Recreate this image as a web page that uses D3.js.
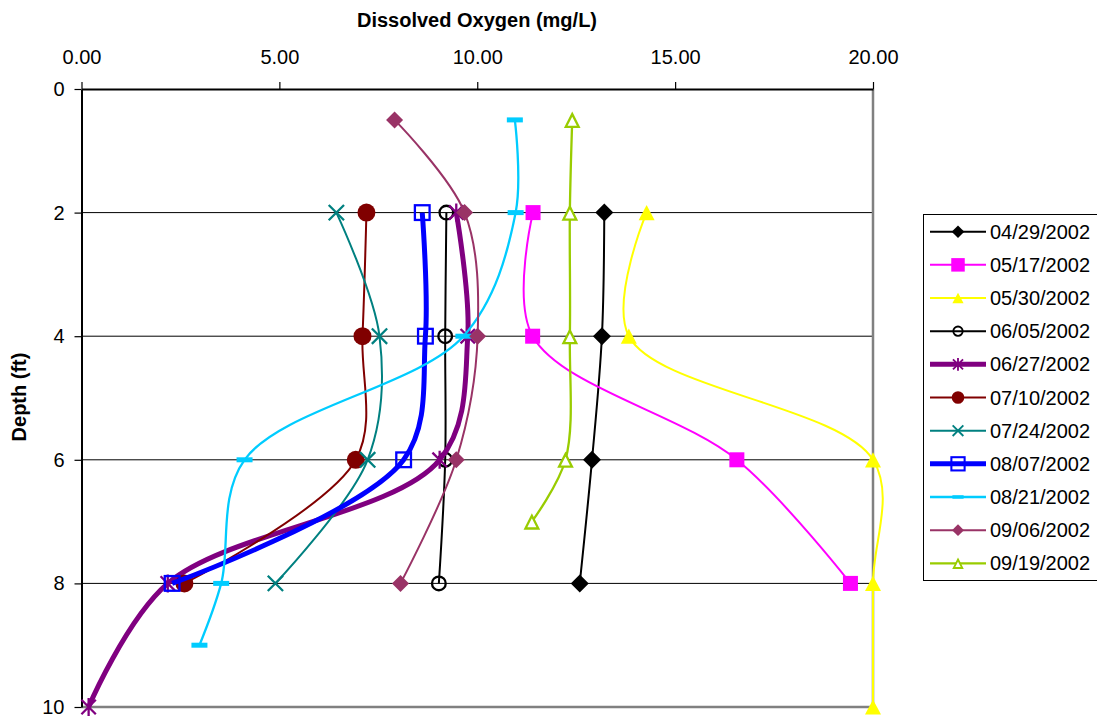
<!DOCTYPE html>
<html>
<head>
<meta charset="utf-8">
<script src="https://cdn.jsdelivr.net/npm/d3@7"></script>
<style>
  html, body { margin: 0; padding: 0; background: #fff; }
  svg { display: block; font-family: "Liberation Sans", Arial, sans-serif; }
</style>
</head>
<body>
<svg id="chart" width="1097" height="717"></svg>
<script>
// Dissolved oxygen profiles: DO (mg/L) against depth (ft), one series per sampling date.
const seriesDates = ["04/29/2002", "05/17/2002", "05/30/2002", "06/05/2002", "06/27/2002",
  "07/10/2002", "07/24/2002", "08/07/2002", "08/21/2002", "09/06/2002", "09/19/2002"];

const depth_0429 = [2, 4, 6, 8];
const do_0429 = [13.21, 13.15, 12.90, 12.59];
const depth_0517 = [2, 4, 6, 8];
const do_0517 = [11.41, 11.40, 16.56, 19.43];
const depth_0530 = [2, 4, 6, 8, 10];
const do_0530 = [14.28, 13.83, 20.0, 20.0, 20.0];
const depth_0605 = [2, 4, 6, 8];
const do_0605 = [9.22, 9.19, 9.19, 9.03];
const depth_0627 = [2, 4, 6, 8, 10];
const do_0627 = [9.47, 9.76, 9.05, 2.18, 0.18];
const depth_0710 = [2, 4, 6, 8];
const do_0710 = [7.20, 7.10, 6.93, 2.60];
const depth_0724 = [2, 4, 6, 8];
const do_0724 = [6.44, 7.53, 7.23, 4.90];
const depth_0807 = [2, 4, 6, 8];
const do_0807 = [8.61, 8.69, 8.14, 2.29];
const depth_0821 = [0.5, 2, 4, 6, 8, 9];
const do_0821 = [10.95, 10.97, 9.65, 4.12, 3.53, 2.98];
const depth_0906 = [0.5, 2, 4, 6, 8];
const do_0906 = [7.91, 9.68, 10.01, 9.47, 8.06];
const depth_0919 = [0.5, 2, 4, 6, 7];
const do_0919 = [12.40, 12.34, 12.34, 12.23, 11.38];

const doTicks = [0, 5, 10, 15, 20];
const depthTicks = [0, 2, 4, 6, 8, 10];

// Per-series appearance
const seriesStyle = [
  { color: "#000000", width: 2,   marker: "diamond",  size: 18, fill: "#000000" },
  { color: "#FF00FF", width: 2,   marker: "square",   size: 15, fill: "#FF00FF" },
  { color: "#FFFF00", width: 2,   marker: "triangle", size: 16, fill: "#FFFF00" },
  { color: "#000000", width: 2,   marker: "circle",   size: 16, fill: "none" },
  { color: "#800080", width: 5,   marker: "star",     size: 18, fill: "none" },
  { color: "#800000", width: 2,   marker: "circle",   size: 18, fill: "#800000" },
  { color: "#008080", width: 2,   marker: "x",        size: 18, fill: "none" },
  { color: "#0000FF", width: 5,   marker: "square",   size: 17, fill: "none" },
  { color: "#00CCFF", width: 2.3, marker: "dash",     size: 16, fill: "#00CCFF" },
  { color: "#993366", width: 2,   marker: "diamond",  size: 17, fill: "#993366" },
  { color: "#99CC00", width: 2.3, marker: "triangle", size: 17, fill: "#FFFFFF" }
];

const seriesData = [
  [depth_0429, do_0429], [depth_0517, do_0517], [depth_0530, do_0530], [depth_0605, do_0605],
  [depth_0627, do_0627], [depth_0710, do_0710], [depth_0724, do_0724], [depth_0807, do_0807],
  [depth_0821, do_0821], [depth_0906, do_0906], [depth_0919, do_0919]
].map(([dep, val]) => dep.map((d, i) => ({ depth: d, value: val[i] })));

const svg = d3.select("#chart");
const plot = { left: 81.5, right: 873, top: 89, bottom: 707 };

const x = d3.scaleLinear().domain([0, 20]).range([plot.left, plot.right]);
const y = d3.scaleLinear().domain([0, 10]).range([plot.top, plot.bottom]);

// Horizontal gridlines
svg.append("g").selectAll("line")
  .data(depthTicks.filter(d => d > 0 && d < 10))
  .join("line")
  .attr("x1", plot.left).attr("x2", plot.right)
  .attr("y1", d => y(d)).attr("y2", d => y(d))
  .attr("stroke", "#000").attr("stroke-width", 1);

// Plot-area border (right and bottom)
svg.append("path")
  .attr("d", `M${plot.right},${plot.top}V${plot.bottom}H${plot.left}`)
  .attr("fill", "none").attr("stroke", "#808080").attr("stroke-width", 2.5);

// Top axis (dissolved oxygen)
const xAxis = svg.append("g")
  .attr("transform", `translate(0,${plot.top})`)
  .call(d3.axisTop(x).tickValues(doTicks).tickFormat(d3.format(".2f"))
    .tickSizeInner(7).tickSizeOuter(0).tickPadding(18));
xAxis.select(".domain").attr("stroke", "#000").attr("stroke-width", 2);
xAxis.selectAll(".tick line").attr("stroke", "#000").attr("stroke-width", 1.2);
xAxis.selectAll(".tick text").attr("font-size", 20).attr("fill", "#000")
  .attr("font-family", "Liberation Sans, Arial, sans-serif");

// Left axis (depth)
const yAxis = svg.append("g")
  .attr("transform", `translate(${plot.left},0)`)
  .call(d3.axisLeft(y).tickValues(depthTicks).tickFormat(d3.format("d"))
    .tickSizeInner(7).tickSizeOuter(0).tickPadding(10));
yAxis.select(".domain").attr("stroke", "#000").attr("stroke-width", 2);
yAxis.selectAll(".tick line").attr("stroke", "#000").attr("stroke-width", 1.2);
yAxis.selectAll(".tick text").attr("font-size", 20).attr("fill", "#000")
  .attr("font-family", "Liberation Sans, Arial, sans-serif");

// Axis titles
svg.append("text")
  .attr("x", 477).attr("y", 27)
  .attr("text-anchor", "middle")
  .attr("font-size", 20).attr("font-weight", "bold")
  .text("Dissolved Oxygen (mg/L)");

svg.append("text")
  .attr("transform", "translate(26,397) rotate(-90)")
  .attr("text-anchor", "middle")
  .attr("font-size", 20).attr("font-weight", "bold")
  .text("Depth (ft)");

// Marker drawing
function drawMarker(g, style, scale) {
  const s = style.size * scale;
  const h = s / 2;
  const sw = 2.3 * Math.max(scale, 0.8);
  switch (style.marker) {
    case "diamond":
      g.append("path").attr("d", `M0,${-h}L${h},0L0,${h}L${-h},0Z`)
        .attr("fill", style.fill).attr("stroke", "none");
      break;
    case "square":
      if (style.fill === "none") {
        g.append("rect").attr("x", -h + sw / 2).attr("y", -h + sw / 2)
          .attr("width", s - sw).attr("height", s - sw)
          .attr("fill", "none").attr("stroke", style.color).attr("stroke-width", sw);
      } else {
        g.append("rect").attr("x", -h).attr("y", -h).attr("width", s).attr("height", s)
          .attr("fill", style.fill);
      }
      break;
    case "triangle": {
      const th = s * 0.95;
      const d = `M0,${-th / 2}L${h},${th / 2}L${-h},${th / 2}Z`;
      if (style.fill === "#FFFFFF") {
        g.append("path").attr("d", `M0,${-th / 2 + sw}L${h - sw * 0.9},${th / 2 - sw / 2}L${-h + sw * 0.9},${th / 2 - sw / 2}Z`)
          .attr("fill", "#fff").attr("stroke", style.color).attr("stroke-width", sw)
          .attr("stroke-linejoin", "miter");
      } else {
        g.append("path").attr("d", d).attr("fill", style.fill);
      }
      break;
    }
    case "circle":
      if (style.fill === "none") {
        g.append("circle").attr("r", h - sw / 2)
          .attr("fill", "none").attr("stroke", style.color).attr("stroke-width", sw);
      } else {
        g.append("circle").attr("r", h).attr("fill", style.fill);
      }
      break;
    case "star":
      g.append("path")
        .attr("d", `M${-h * 0.8},${-h * 0.8}L${h * 0.8},${h * 0.8}M${-h * 0.8},${h * 0.8}L${h * 0.8},${-h * 0.8}M0,${-h}V${h}`)
        .attr("stroke", style.color).attr("stroke-width", sw).attr("fill", "none");
      break;
    case "x":
      g.append("path")
        .attr("d", `M${-h * 0.85},${-h * 0.85}L${h * 0.85},${h * 0.85}M${-h * 0.85},${h * 0.85}L${h * 0.85},${-h * 0.85}`)
        .attr("stroke", style.color).attr("stroke-width", sw).attr("fill", "none");
      break;
    case "dash":
      g.append("rect").attr("x", -h).attr("y", -2.5 * scale).attr("width", s).attr("height", 5 * scale)
        .attr("fill", style.fill);
      break;
  }
}

// Smoothed profile lines with markers, one series at a time
const line = d3.line()
  .x(d => x(d.value))
  .y(d => y(d.depth))
  .curve(d3.curveCatmullRom.alpha(0.5));

const seriesLayer = svg.append("g");
seriesData.forEach((pts, i) => {
  const st = seriesStyle[i];
  const g = seriesLayer.append("g");
  g.append("path")
    .datum(pts)
    .attr("d", line)
    .attr("fill", "none")
    .attr("stroke", st.color)
    .attr("stroke-width", st.width)
    .attr("stroke-linejoin", "round");
  g.selectAll("g.marker")
    .data(pts)
    .join("g")
    .attr("class", "marker")
    .attr("transform", d => `translate(${x(d.value)},${y(d.depth)})`)
    .each(function () { drawMarker(d3.select(this), st, 1); });
});

// Legend
const legend = svg.append("g");
legend.append("rect")
  .attr("x", 923.5).attr("y", 214.5)
  .attr("width", 200).attr("height", 366)
  .attr("fill", "#fff").attr("stroke", "#000").attr("stroke-width", 1);

const legendY = d3.scaleLinear().domain([0, seriesDates.length - 1]).range([231.7, 563.3]);
seriesDates.forEach((label, i) => {
  const st = seriesStyle[i];
  const row = legend.append("g").attr("transform", `translate(0,${legendY(i)})`);
  row.append("line").attr("x1", 930).attr("x2", 986)
    .attr("stroke", st.color).attr("stroke-width", st.width);
  const m = row.append("g").attr("transform", "translate(958,0)");
  drawMarker(m, st, st.marker === "square" ? 0.9 : 0.7);
  row.append("text").attr("x", 990).attr("y", 7)
    .attr("font-size", 20).attr("fill", "#000")
    .text(label);
});
</script>
</body>
</html>
